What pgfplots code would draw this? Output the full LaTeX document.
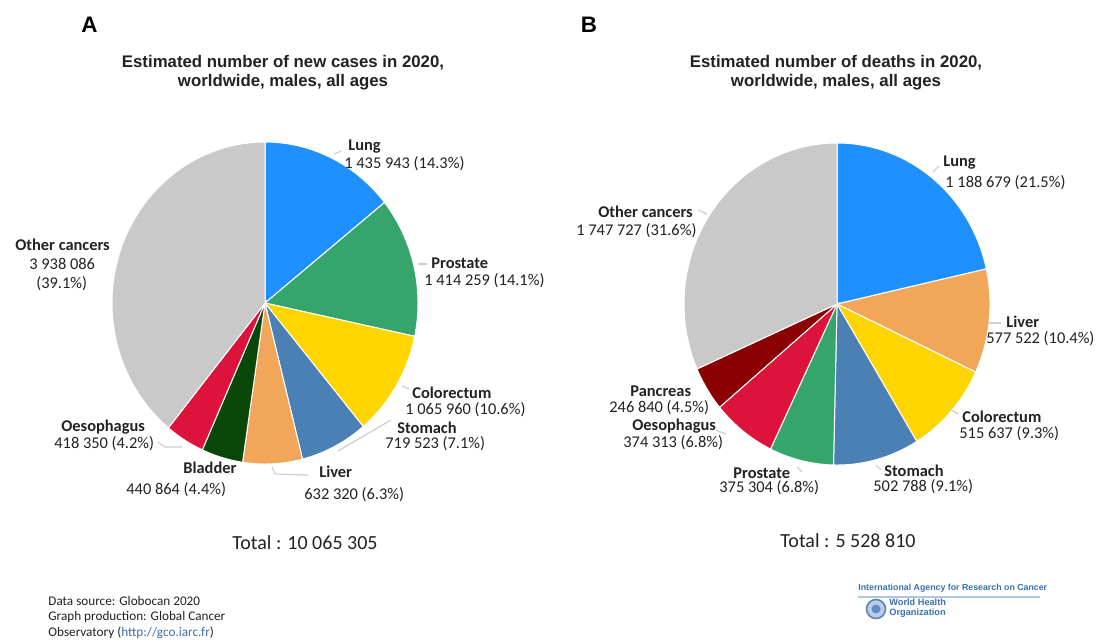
\documentclass[border=0pt]{standalone}
\usepackage{pgfplots}
\pgfplotsset{compat=1.18}
\usepackage{pgfplotstable}
\usepackage{fontspec}
\setmainfont{Carlito}
\newfontfamily\arialfont{Liberation Sans}

\definecolor{clung}{HTML}{1E90FF}
\definecolor{cprostate}{HTML}{35A56B}
\definecolor{ccolo}{HTML}{FFD500}
\definecolor{cstomach}{HTML}{4A80B4}
\definecolor{cliver}{HTML}{F2A65A}
\definecolor{cbladder}{HTML}{0A480A}
\definecolor{coeso}{HTML}{DC143C}
\definecolor{cother}{HTML}{C9C9C9}
\definecolor{cpancreas}{HTML}{8B0000}
\definecolor{leader}{HTML}{CFCFCF}
\definecolor{txt}{HTML}{222222}
\definecolor{iarcblue}{HTML}{3A70B0}

% new cases 2020, males (panel A)
\pgfplotstableread{
cancer value
Lung 1435943
Prostate 1414259
Colorectum 1065960
Stomach 719523
Liver 632320
Bladder 440864
Oesophagus 418350
Other 3938086
}\dataA

% deaths 2020, males (panel B)
\pgfplotstableread{
cancer value
Lung 1188679
Liver 577522
Colorectum 515637
Stomach 502788
Prostate 375304
Oesophagus 374313
Pancreas 246840
Other 1747727
}\dataB

% start / end angles of each slice (clockwise from 12 o'clock)
\newcommand\computepie[2]{%
  \pgfplotstablegetrowsof{#1}%
  \pgfmathtruncatemacro\pielast{\pgfplotsretval-1}%
  \gdef\pietot{0}%
  \foreach \i in {0,...,\pielast}{%
    \pgfplotstablegetelem{\i}{value}\of{#1}%
    \xdef\pietot{\fpeval{\pietot+\pgfplotsretval}}%
  }%
  \gdef\piecum{0}%
  \foreach \i in {0,...,\pielast}{%
    \pgfplotstablegetelem{\i}{value}\of{#1}%
    \expandafter\xdef\csname pie#2s\i\endcsname{\fpeval{round(90-360*\piecum/\pietot,4)}}%
    \xdef\piecum{\fpeval{\piecum+\pgfplotsretval}}%
    \expandafter\xdef\csname pie#2e\i\endcsname{\fpeval{round(90-360*\piecum/\pietot,4)}}%
  }%
}
\computepie{\dataA}{A}
\computepie{\dataB}{B}

\newcommand\pieslice[3]{%
  \addplot[fill=#3, draw=white, line width=0.5pt, samples=90, variable=\t,
    domain={\csname pie#1e#2\endcsname}:{\csname pie#1s#2\endcsname}]
    ({cos(\t)},{sin(\t)}) -- (axis cs:0,0) -- cycle;
}

\newcommand\lbl{\fontsize{8.2}{9}\selectfont}
\newcommand\ttl{\arialfont\bfseries\fontsize{8.4}{9.6}\selectfont}

\pgfplotsset{pieaxis/.style={anchor=center, width=153pt, height=161pt,
  scale only axis, hide axis, clip=false, xmin=-1, xmax=1, ymin=-1, ymax=1}}

\begin{document}
\begin{tikzpicture}[x=0.5pt, y=-0.5pt]
\fill[white] (0,0) rectangle (1106,639);
\path[use as bounding box] (0,0) rectangle (1106,639);

% ---------- panel A ----------
\begin{axis}[pieaxis, at={(132.5pt,-151.5pt)}]
\pieslice{A}{0}{clung}
\pieslice{A}{1}{cprostate}
\pieslice{A}{2}{ccolo}
\pieslice{A}{3}{cstomach}
\pieslice{A}{4}{cliver}
\pieslice{A}{5}{cbladder}
\pieslice{A}{6}{coeso}
\pieslice{A}{7}{cother}
\end{axis}

% ---------- panel B ----------
\begin{axis}[pieaxis, at={(418.5pt,-152pt)}]
\pieslice{B}{0}{clung}
\pieslice{B}{1}{cliver}
\pieslice{B}{2}{ccolo}
\pieslice{B}{3}{cstomach}
\pieslice{B}{4}{cprostate}
\pieslice{B}{5}{coeso}
\pieslice{B}{6}{cpancreas}
\pieslice{B}{7}{cother}
\end{axis}

% panel letters and titles
\node[font=\arialfont\bfseries\fontsize{11.2}{13}\selectfont] at (89.5,25) {A};
\node[font=\arialfont\bfseries\fontsize{11.2}{13}\selectfont] at (589,25) {B};
\node[font=\ttl, align=center, text=txt] at (283,73) {Estimated number of new cases in 2020,\\ worldwide, males, all ages};
\node[font=\ttl, align=center, text=txt] at (836,73) {Estimated number of deaths in 2020,\\ worldwide, males, all ages};

% leader lines
\begin{scope}[draw=leader, line width=0.6pt]
\draw (334,154) -- (341,151);
\draw (418,264) -- (427,264);
\draw (402,386) -- (409,389);
\draw (391,420) -- (338,451);
\draw (272,467) -- (275,474) -- (308,475);
\draw (158,442) -- (165,447) -- (182,447);
\draw (933,172) -- (939,166);
\draw (698,210) -- (707,214);
\draw (988,323) -- (1001,323);
\draw (950,409) -- (958,414);
\draw (876,465) -- (881,470);
\draw (797,467) -- (802,472);
\draw (716,430) -- (726,434);
\end{scope}

% labels panel A
\begin{scope}[every node/.style={anchor=west, font=\lbl, text=txt, inner sep=0pt}]
\node[font=\lbl\bfseries] at (348,147) {Lung};
\node at (344,164) {1 435 943 (14.3\%)};
\node[font=\lbl\bfseries] at (431,263) {Prostate};
\node at (424,281) {1 414 259 (14.1\%)};
\node[font=\lbl\bfseries] at (412,393) {Colorectum};
\node at (405,410) {1 065 960 (10.6\%)};
\node[font=\lbl\bfseries] at (397,428) {Stomach};
\node at (385,444) {719 523 (7.1\%)};
\node[font=\lbl\bfseries] at (319,472) {Liver};
\node at (304,495) {632 320 (6.3\%)};
\node[font=\lbl\bfseries] at (183,468) {Bladder};
\node at (126,490) {440 864 (4.4\%)};
\node[font=\lbl\bfseries] at (61,427) {Oesophagus};
\node at (54,444) {418 350 (4.2\%)};
\node[font=\lbl\bfseries] at (15,245) {Other cancers};
\node at (29,264) {3 938 086};
\node at (36,284) {(39.1\%)};
% labels panel B
\node[font=\lbl\bfseries] at (943,163) {Lung};
\node at (945,183) {1 188 679 (21.5\%)};
\node[font=\lbl\bfseries] at (598,212) {Other cancers};
\node at (576,231) {1 747 727 (31.6\%)};
\node[font=\lbl\bfseries] at (1006,322) {Liver};
\node at (986,339) {577 522 (10.4\%)};
\node[font=\lbl\bfseries] at (962,417) {Colorectum};
\node at (959,434) {515 637 (9.3\%)};
\node[font=\lbl\bfseries] at (884,471) {Stomach};
\node at (873,487) {502 788 (9.1\%)};
\node[font=\lbl\bfseries] at (733,473) {Prostate};
\node at (719,488) {375 304 (6.8\%)};
\node[font=\lbl\bfseries] at (632,426) {Oesophagus};
\node at (623,443) {374 313 (6.8\%)};
\node[font=\lbl\bfseries] at (630,391) {Pancreas};
\node at (609,408) {246 840 (4.5\%)};
\end{scope}

% totals
\node[font=\fontsize{10}{12}\selectfont, text=txt] at (305,543) {Total : 10 065 305};
\node[font=\fontsize{10}{12}\selectfont, text=txt] at (848,541) {Total : 5 528 810};

% footer
\begin{scope}[every node/.style={anchor=west, font=\fontsize{6.6}{7.5}\selectfont, text=txt, inner sep=0pt}]
\node at (48,601) {Data source: Globocan 2020};
\node at (48,617) {Graph production: Global Cancer};
\node at (48,633) {Observatory (\textcolor{iarcblue}{http://gco.iarc.fr})};
\end{scope}

% IARC / WHO logo
\node[anchor=west, inner sep=0pt, text=iarcblue, font=\arialfont\bfseries\fontsize{4.4}{5}\selectfont] at (858,588) {International Agency for Research on Cancer};
\draw[iarcblue!40, line width=0.8pt] (858,597) -- (1040,597);
\fill[iarcblue!35] (876,609) circle (9.5);
\draw[iarcblue!85, line width=0.8pt] (876,609) circle (9.5);
\fill[iarcblue!80] (876,609) circle (4.5);
\node[anchor=base west, inner sep=0pt, text=iarcblue, font=\arialfont\bfseries\fontsize{4.6}{5}\selectfont] at (889,605) {World Health};
\node[anchor=base west, inner sep=0pt, text=iarcblue, font=\arialfont\bfseries\fontsize{4.6}{5}\selectfont] at (889,615) {Organization};
\end{tikzpicture}
\end{document}
